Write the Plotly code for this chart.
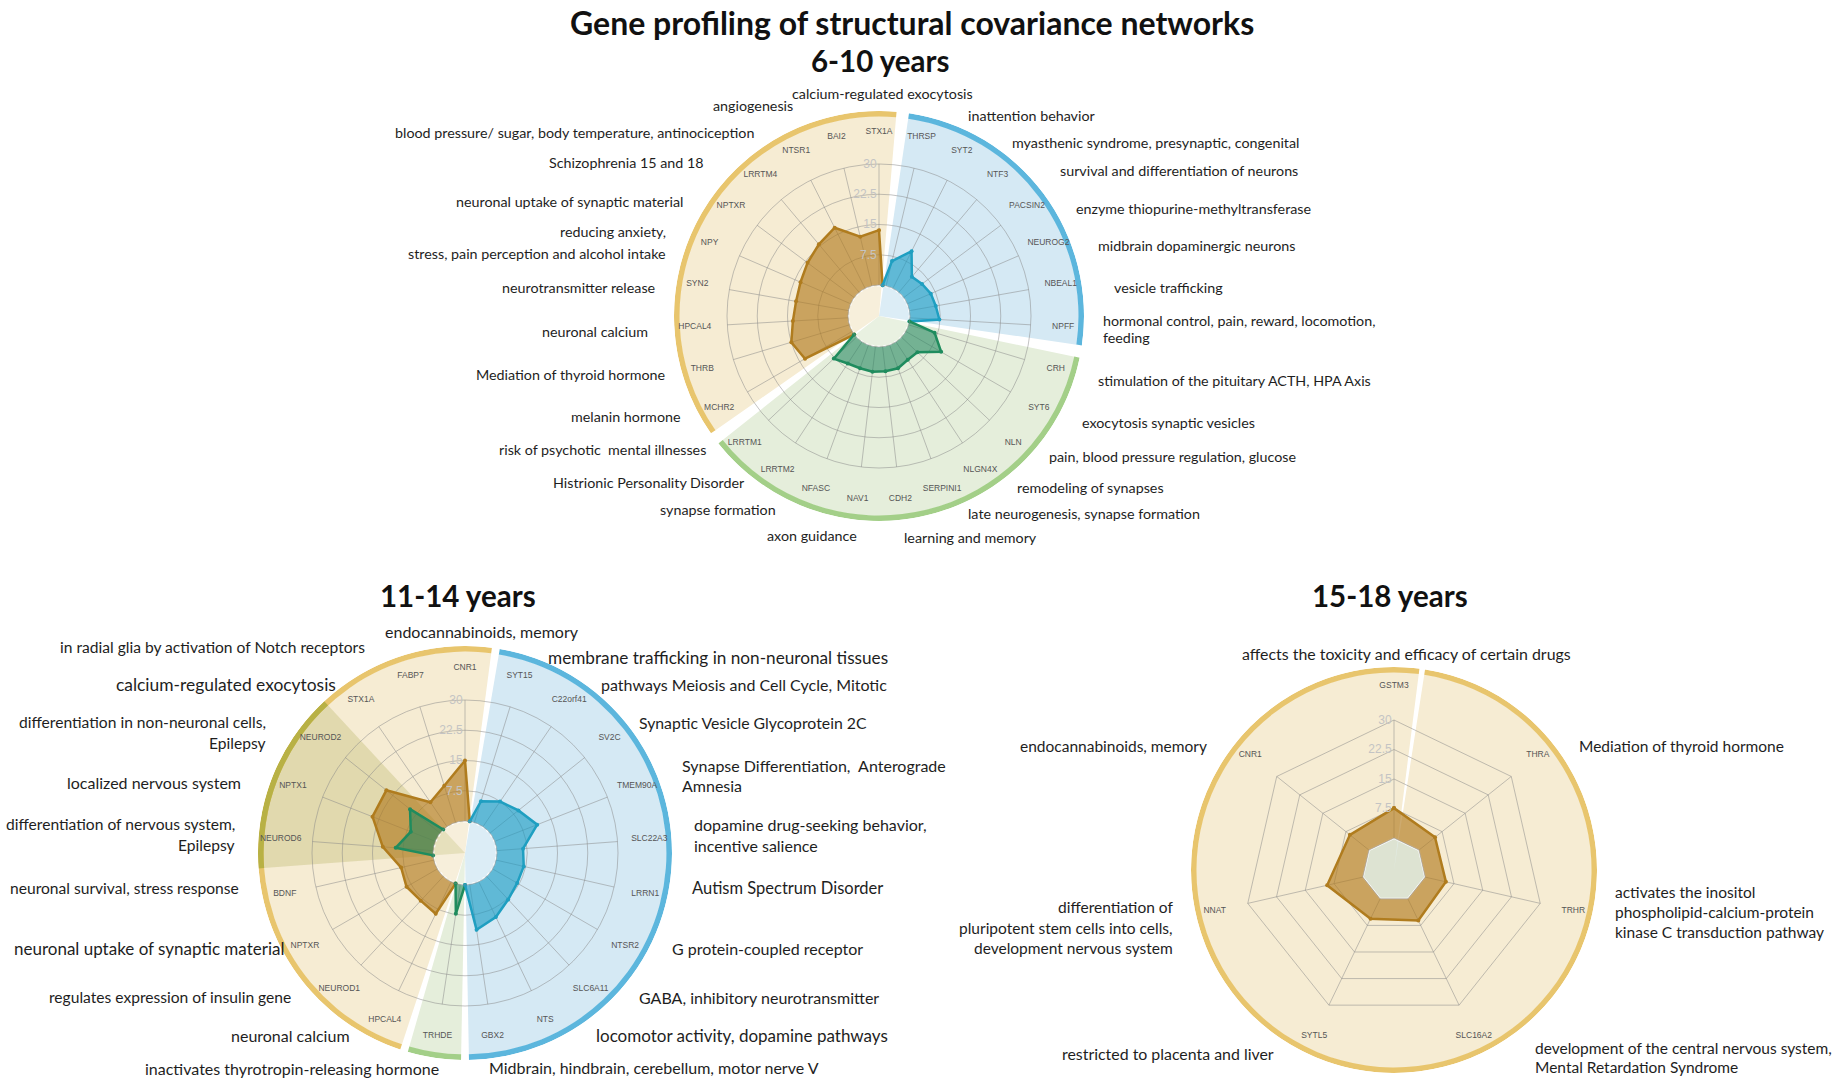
import plotly.graph_objects as go

W, H = 1841, 1080

# ---------------- data: 6-10 years ----------------
# genes clockwise from the top of the radar
order_6_10 = ["STX1A", "THRSP", "SYT2", "NTF3", "PACSIN2", "NEUROG2", "NBEAL1", "NPFF",
              "CRH", "SYT6", "NLN", "NLGN4X", "SERPINI1", "CDH2", "NAV1", "NFASC", "LRRTM2", "LRRTM1",
              "MCHR2", "THRB", "HPCAL4", "SYN2", "NPY", "NPTXR", "LRRTM4", "NTSR1", "BAI2"]
yellow_6_10 = ["MCHR2", "THRB", "HPCAL4", "SYN2", "NPY", "NPTXR", "LRRTM4", "NTSR1", "BAI2", "STX1A"]
yellow_6_10_val = [13.5, 15.0, 13.7, 13.2, 13.5, 14.4, 15.5, 16.8, 12.5, 13.6]
blue_6_10 = ["THRSP", "SYT2", "NTF3", "PACSIN2", "NEUROG2", "NBEAL1", "NPFF"]
blue_6_10_val = [6.3, 10.3, 5.0, 5.6, 6.3, 6.6, 7.3]
green_6_10 = ["CRH", "SYT6", "NLN", "NLGN4X", "SERPINI1", "CDH2", "NAV1", "NFASC", "LRRTM2", "LRRTM1"]
green_6_10_val = [6.7, 10.1, 5.4, 5.3, 6.1, 6.1, 6.2, 6.1, 6.4, 7.7]

# ---------------- data: 11-14 years ----------------
order_11_14 = ["CNR1", "SYT15", "C22orf41", "SV2C", "TMEM90A", "SLC22A3", "LRRN1", "NTSR2", "SLC6A11",
               "NTS", "GBX2", "TRHDE", "HPCAL4", "NEUROD1", "NPTXR", "BDNF", "NEUROD6", "NPTX1",
               "NEUROD2", "STX1A", "FABP7"]
yellow_11_14 = ["HPCAL4", "NEUROD1", "NPTXR", "BDNF", "NEUROD6", "NPTX1", "NEUROD2", "STX1A", "FABP7", "CNR1"]
yellow_11_14_val = [8.8, 8.2, 8.8, 8.3, 12.5, 16.7, 17.0, 7.3, 9.5, 15.0]
blue_11_14 = ["SYT15", "C22orf41", "SV2C", "TMEM90A", "SLC22A3", "LRRN1", "NTSR2", "SLC6A11", "NTS", "GBX2"]
blue_11_14_val = [5.5, 7.5, 9.0, 11.3, 6.5, 7.0, 7.0, 7.8, 9.7, 11.3]
green_11_14 = ["TRHDE", "NEUROD6", "NPTX1", "NEUROD2"]
green_11_14_val = [7.3, 9.3, 6.5, 9.5]

# ---------------- data: 15-18 years ----------------
order_15_18 = ["GSTM3", "THRA", "TRHR", "SLC16A2", "SYTL5", "NNAT", "CNR1"]
yellow_15_18_val = [7.6, 5.2, 5.4, 6.1, 5.6, 9.3, 6.2]

# ---------------- gene functions ----------------
notes_6_10 = ["calcium-regulated exocytosis", "angiogenesis",
              "blood pressure/ sugar, body temperature, antinociception", "Schizophrenia 15 and 18",
              "neuronal uptake of synaptic material", "reducing anxiety,",
              "stress, pain perception and alcohol intake", "neurotransmitter release", "neuronal calcium",
              "Mediation of thyroid hormone", "melanin hormone", "risk of psychotic  mental illnesses",
              "Histrionic Personality Disorder", "synapse formation", "axon guidance",
              "learning and memory", "late neurogenesis, synapse formation", "remodeling of synapses",
              "pain, blood pressure regulation, glucose", "exocytosis synaptic vesicles",
              "stimulation of the pituitary ACTH, HPA Axis", "hormonal control, pain, reward, locomotion,",
              "feeding", "vesicle trafficking", "midbrain dopaminergic neurons",
              "enzyme thiopurine-methyltransferase", "survival and differentiation of neurons",
              "myasthenic syndrome, presynaptic, congenital", "inattention behavior"]
notes_11_14 = ["endocannabinoids, memory", "in radial glia by activation of Notch receptors",
               "calcium-regulated exocytosis", "differentiation in non-neuronal cells,", "Epilepsy",
               "localized nervous system", "differentiation of nervous system,", "Epilepsy",
               "neuronal survival, stress response", "neuronal uptake of synaptic material",
               "regulates expression of insulin gene", "neuronal calcium",
               "inactivates thyrotropin-releasing hormone", "membrane trafficking in non-neuronal tissues",
               "pathways Meiosis and Cell Cycle, Mitotic", "Synaptic Vesicle Glycoprotein 2C",
               "Synapse Differentiation,  Anterograde", "Amnesia", "dopamine drug-seeking behavior,",
               "incentive salience", "Autism Spectrum Disorder", "G protein-coupled receptor",
               "GABA, inhibitory neurotransmitter", "locomotor activity, dopamine pathways",
               "Midbrain, hindbrain, cerebellum, motor nerve V"]
notes_15_18 = ["affects the toxicity and efficacy of certain drugs", "endocannabinoids, memory",
               "Mediation of thyroid hormone", "activates the inositol", "phospholipid-calcium-protein",
               "kinase C transduction pathway", "development of the central nervous system,",
               "Mental Retardation Syndrome", "restricted to placenta and liver", "differentiation of",
               "pluripotent stem cells into cells,", "development nervous system"]

# ---------------- layout of the note texts (pixel x, pixel y, anchor, size) ----------------
note_pos_6_10 = [(882, 94, "center", 14.3), (795, 106, "right", 14.3), (756, 132, "right", 14.3),
                 (706, 163, "right", 14.3), (685, 202, "right", 14.3), (668, 232, "right", 14.3),
                 (668, 253, "right", 14.3), (657, 288, "right", 14.3), (650, 332, "right", 14.3),
                 (667, 374, "right", 14.3), (683, 417, "right", 14.3), (708, 449, "right", 14.3),
                 (747, 482, "right", 14.3), (778, 509, "right", 14.3), (859, 536, "right", 14.3),
                 (902, 537, "left", 14.3), (966, 513, "left", 14.3), (1015, 487, "left", 14.3),
                 (1047, 456, "left", 14.3), (1080, 423, "left", 14.3), (1096, 380, "left", 14.3),
                 (1101, 320, "left", 14.3), (1101, 338, "left", 14.3), (1112, 288, "left", 14.3),
                 (1096, 245, "left", 14.3), (1074, 208, "left", 14.3), (1058, 170, "left", 14.3),
                 (1010, 142, "left", 14.3), (966, 115, "left", 14.3)]
note_pos_11_14 = [(383, 631, "left", 16), (367, 647, "right", 15.6), (338, 684, "right", 17.4),
                  (268, 722, "right", 15.6), (268, 743, "right", 15.6), (243, 782, "right", 16),
                  (237, 824, "right", 15.6), (237, 845, "right", 15.6), (241, 888, "right", 15.6),
                  (286, 948, "right", 17), (293, 997, "right", 15.6), (352, 1035, "right", 16),
                  (441, 1068, "right", 16), (546, 657, "left", 17.2), (599, 684, "left", 16),
                  (637, 722, "left", 15.8), (680, 765, "left", 16), (680, 785, "left", 16),
                  (692, 824, "left", 16), (692, 845, "left", 16), (690, 888, "left", 16.5),
                  (670, 948, "left", 16), (637, 997, "left", 16), (594, 1035, "left", 17),
                  (487, 1067, "left", 16)]
note_pos_15_18 = [(1406, 653, "center", 15.9), (1209, 746, "right", 15.5), (1577, 746, "left", 15.5),
                  (1613, 892, "left", 15.5), (1613, 912, "left", 15.5), (1613, 932, "left", 15.5),
                  (1533, 1048, "left", 15.5), (1533, 1067, "left", 15.5), (1276, 1053, "right", 15.9),
                  (1175, 907, "right", 15.5), (1175, 928, "right", 15.5), (1175, 948, "right", 15.5)]

YELLOW = dict(bg="#f6ecd3", ring="#e8c56d", line="#b07c1e", fill="rgba(176,122,30,0.64)")
BLUE = dict(bg="#d5e9f4", ring="#5cb6dd", line="#1f9fc1", fill="rgba(25,155,195,0.62)")
GREEN = dict(bg="#e5eedb", ring="#a3cf88", line="#1f8c5e", fill="rgba(35,135,95,0.58)")
OLIVE = dict(bg="rgba(150,150,45,0.22)", ring="#b8b145")
GRID = "rgba(135,135,135,0.5)"

fig = go.Figure()
n_polar = [0]


def px_domain(cx, cy, R):
    return dict(x=[(cx - R) / W, (cx + R) / W], y=[1 - (cy + R) / H, 1 - (cy - R) / H])


def new_polar():
    n_polar[0] += 1
    return "polar" if n_polar[0] == 1 else "polar%d" % n_polar[0]


def runs(order, genes):
    # split the genes into runs of neighbouring positions (unwrapped around the circle)
    idx = [order.index(g) for g in genes]
    for i in range(1, len(idx)):
        while idx[i] < idx[i - 1]:
            idx[i] += len(order)
    out, cur = [], [0]
    for i in range(1, len(idx)):
        if idx[i] == idx[i - 1] + 1:
            cur.append(i)
        else:
            out.append(cur)
            cur = [i]
    out.append(cur)
    return idx, out


def radar(cx, cy, R_bg, R_fg, hole_px, order, sectors, series, label_r, linear=False,
          sector_override=None):
    n = len(order)
    step = 360.0 / n
    bg = new_polar()
    fg = new_polar()

    # background wedges + outer ring
    for genes, style, g in sectors:
        idx, rr = runs(order, genes)
        for run in rr:
            a0 = (idx[run[0]] - 0.5) * step + g / 2
            a1 = (idx[run[-1]] + 0.5) * step - g / 2
            if sector_override is not None:
                a0, a1 = sector_override
            mid, wid = (a0 + a1) / 2, a1 - a0
            fig.add_trace(go.Barpolar(r=[0.975], theta=[mid], width=[wid], base=0,
                                      marker=dict(color=style["bg"], line=dict(width=0)),
                                      hoverinfo="skip", showlegend=False, subplot=bg))
            fig.add_trace(go.Barpolar(r=[0.027], theta=[mid], width=[wid], base=0.973,
                                      marker=dict(color=style["ring"], line=dict(width=0)),
                                      hoverinfo="skip", showlegend=False, subplot=bg))

    # lighter centre
    h = hole_px / R_bg
    ang = [i * step for i in range(n)]
    if linear:
        fig.add_trace(go.Scatterpolar(r=[h] * (n + 1), theta=ang + [0], mode="lines", fill="toself",
                                      fillcolor="rgba(205,222,210,0.6)", line=dict(color="white", width=2),
                                      hoverinfo="skip", showlegend=False, subplot=bg))
    else:
        fig.add_trace(go.Barpolar(r=[h, h], theta=[90, 270], width=[180, 180], base=0,
                                  marker=dict(color="rgba(255,255,255,0.18)", line=dict(width=0)),
                                  hoverinfo="skip", showlegend=False, subplot=bg))
        fig.add_trace(go.Scatterpolar(r=[h] * (n + 1), theta=ang + [0], mode="lines",
                                      line=dict(color="rgba(255,255,255,0.9)", width=2.5, dash="dot"),
                                      hoverinfo="skip", showlegend=False, subplot=bg))

    # gene names
    fig.add_trace(go.Scatterpolar(r=[label_r] * n, theta=ang, text=order, mode="text",
                                  textfont=dict(family="Liberation Sans, Arial", size=8.5, color="#555"),
                                  hoverinfo="skip", showlegend=False, subplot=bg))

    # data polygons
    for genes, vals, style in series:
        if linear:
            fig.add_trace(go.Scatterpolar(r=vals + vals[:1], theta=genes + genes[:1], mode="lines+markers",
                                          fill="toself", fillcolor=style["fill"],
                                          line=dict(color=style["line"], width=2.5),
                                          marker=dict(size=4, color=style["line"]),
                                          showlegend=False, subplot=fg))
            continue
        idx, rr = runs(order, genes)
        th, r = [], []
        for run in rr:
            if th:
                th.append(None)
                r.append(None)
            th.append((idx[run[0]] - 0.5) * step)
            r.append(0)
            for k in run:
                th.append(idx[k] * step)
                r.append(vals[k])
            th.append((idx[run[-1]] + 0.5) * step)
            r.append(0)
        fig.add_trace(go.Scatterpolar(r=r, theta=th, mode="lines+markers", fill="toself",
                                      fillcolor=style["fill"], connectgaps=False,
                                      line=dict(color=style["line"], width=2.5),
                                      marker=dict(size=4, color=style["line"]),
                                      showlegend=False, subplot=fg))

    fig.update_layout(**{
        bg: dict(domain=px_domain(cx, cy, R_bg), bgcolor="rgba(0,0,0,0)",
                 radialaxis=dict(visible=False, range=[0, 1]),
                 angularaxis=dict(visible=False, rotation=90, direction="clockwise", type="linear")),
        fg: dict(domain=px_domain(cx, cy, R_fg), bgcolor="rgba(0,0,0,0)", hole=hole_px / R_fg,
                 gridshape="linear" if linear else "circular",
                 radialaxis=dict(range=[0, 30], tickvals=[7.5, 15, 22.5, 30], ticks="", showline=False,
                                 angle=90, tickangle=90, side="counterclockwise", gridcolor=GRID, gridwidth=1,
                                 tickfont=dict(family="Liberation Sans, Arial", size=12, color="#c4c4c4")),
                 angularaxis=(dict(type="category", categoryarray=order, rotation=90, direction="clockwise",
                                   showticklabels=False, ticks="", gridcolor=GRID, linecolor=GRID)
                              if linear else
                              dict(type="linear", rotation=90, direction="clockwise", tickvals=ang,
                                   showticklabels=False, ticks="", gridcolor=GRID, linecolor=GRID))),
    })


radar(879, 316, 205, 152, 31, order_6_10,
      [(blue_6_10, BLUE, 3.5), (green_6_10, GREEN, 3.5), (yellow_6_10, YELLOW, 3.5)],
      [(yellow_6_10, yellow_6_10_val, YELLOW), (blue_6_10, blue_6_10_val, BLUE),
       (green_6_10, green_6_10_val, GREEN)],
      label_r=0.9)

radar(465, 853, 207, 153, 32, order_11_14,
      [(blue_11_14, BLUE, 2.2), (green_11_14[:1], GREEN, 2.2), (yellow_11_14, YELLOW, 2.2),
       (green_11_14[1:], OLIVE, 0)],
      [(yellow_11_14, yellow_11_14_val, YELLOW), (green_11_14, green_11_14_val, GREEN),
       (blue_11_14, blue_11_14_val, BLUE)],
      label_r=0.893)

radar(1394, 870, 203, 150, 32, order_15_18,
      [(order_15_18, YELLOW, 0)],
      [(order_15_18, yellow_15_18_val, YELLOW)],
      label_r=0.906, linear=True, sector_override=(8.8, 367.2))

# ---------------- text ----------------
ann = []
for notes, pos in [(notes_6_10, note_pos_6_10), (notes_11_14, note_pos_11_14), (notes_15_18, note_pos_15_18)]:
    for t, (x, y, anchor, size) in zip(notes, pos):
        ann.append(dict(text=t, x=x / W, y=1 - y / H, xref="paper", yref="paper", xanchor=anchor,
                        yanchor="middle", showarrow=False,
                        font=dict(family="Lato, Open Sans, sans-serif", size=size, color="#1e1e1e")))

titles = [("Gene profiling of structural covariance networks", 912, 22, 32),
          ("6-10 years", 880, 61, 29.5), ("11-14 years", 458, 595, 29.5), ("15-18 years", 1390, 595, 29.5)]
for t, x, y, size in titles:
    ann.append(dict(text="<b>%s</b>" % t, x=x / W, y=1 - y / H, xref="paper", yref="paper",
                    xanchor="center", yanchor="middle", showarrow=False,
                    font=dict(family="Lato, Open Sans, sans-serif", size=size, color="#111")))

fig.update_layout(width=W, height=H, margin=dict(l=0, r=0, t=0, b=0), paper_bgcolor="white",
                  plot_bgcolor="white", showlegend=False, annotations=ann)

# drop the default page margin so the figure fills the window exactly
fig.write_html("out.html", config={"displayModeBar": False},
               post_script="document.body.style.margin='0px';")
